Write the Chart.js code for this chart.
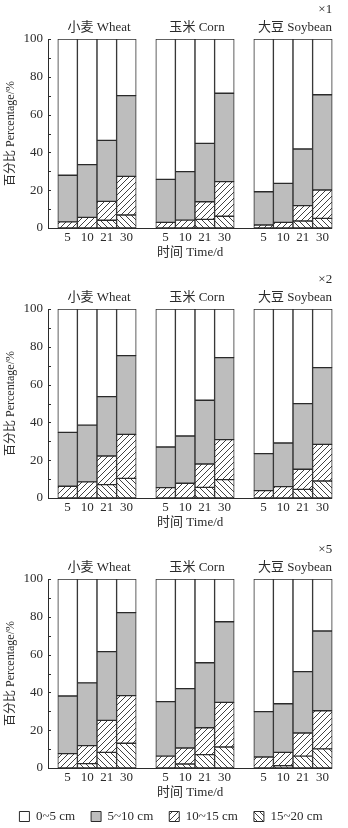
<!DOCTYPE html>
<html>
<head>
<meta charset="utf-8">
<script src="https://cdn.jsdelivr.net/npm/chart.js@4.4.1/dist/chart.umd.min.js"></script>
<style>
  html, body { margin: 0; padding: 0; background: #fff; overflow: hidden; }
  canvas { position: absolute; left: 0; }
</style>
</head>
<body>
<canvas id="c1" width="348" height="270" style="top:0"></canvas>
<canvas id="c2" width="348" height="270" style="top:270px"></canvas>
<canvas id="c3" width="348" height="293" style="top:540px"></canvas>
<script>
// categories
const days = ['5', '10', '21', '30'];
const crops = ['小麦 Wheat', '玉米 Corn', '大豆 Soybean'];
const layers = ['0~5 cm', '5~10 cm', '10~15 cm', '15~20 cm'];
const tags = ['×1', '×2', '×5'];
const yTicks = [0, 20, 40, 60, 80, 100];

// values in % — order: wheat 5/10/21/30, corn 5/10/21/30, soybean 5/10/21/30
// ×1
const x1Depth0to5   = [72.1, 66.5, 53.6, 30.0,  74.3, 70.2, 55.2, 28.7,  80.8, 76.4, 58.2, 29.5];
const x1Depth5to10  = [24.7, 27.9, 32.3, 42.7,  22.7, 25.6, 30.9, 46.8,  17.6, 20.6, 30.0, 50.4];
const x1Depth10to15 = [3.2, 5.6, 10.0, 20.4,    3.0, 4.2, 9.3, 18.3,     1.6, 3.0, 8.1, 15.0];
const x1Depth15to20 = [0, 0, 4.1, 6.9,          0, 0, 4.6, 6.2,          0, 0, 3.7, 5.1];
// ×2
const x2Depth0to5   = [65.3, 61.4, 46.4, 24.7,  73.0, 67.2, 48.3, 25.7,  76.5, 70.9, 50.1, 31.0];
const x2Depth5to10  = [28.5, 30.1, 31.4, 41.6,  21.5, 25.0, 33.7, 43.4,  19.6, 23.1, 34.7, 40.6];
const x2Depth10to15 = [6.2, 8.5, 15.1, 23.3,    5.5, 7.8, 12.4, 21.2,    3.9, 6.0, 10.6, 19.4];
const x2Depth15to20 = [0, 0, 7.1, 10.4,         0, 0, 5.6, 9.7,          0, 0, 4.6, 9.0];
// ×5
const x5Depth0to5   = [61.9, 55.0, 38.4, 17.8,  64.9, 58.0, 44.3, 22.6,  70.2, 66.0, 49.0, 27.5];
const x5Depth5to10  = [30.5, 33.2, 36.4, 43.9,  28.8, 31.4, 34.4, 42.7,  24.0, 25.7, 32.5, 42.2];
const x5Depth10to15 = [7.6, 9.5, 16.9, 25.2,    6.3, 8.5, 14.2, 23.6,    5.8, 7.1, 12.2, 20.2];
const x5Depth15to20 = [0, 2.3, 8.3, 13.1,       0, 2.1, 7.1, 11.1,       0, 1.2, 6.3, 10.1];

const INK = '#2b2b2b';
const GRAY = '#bdbdbd';
const FAMILY = "'Liberation Serif', 'Noto Sans CJK SC', serif";
const xTitle = '时间 Time/d';

// diagonal hatch fill, dir 1 = "/" and -1 = "\"
function hatch(dir) {
    const s = 6;
    const c = document.createElement('canvas');
    c.width = s; c.height = s;
    const g = c.getContext('2d');
    g.fillStyle = '#fff';
    g.fillRect(0, 0, s, s);
    g.strokeStyle = INK;
    g.lineWidth = 0.9;
    g.beginPath();
    if (dir > 0) {
        g.moveTo(0, s); g.lineTo(s, 0);
        g.moveTo(-1, 1); g.lineTo(1, -1);
        g.moveTo(s - 1, s + 1); g.lineTo(s + 1, s - 1);
    } else {
        g.moveTo(0, 0); g.lineTo(s, s);
        g.moveTo(-1, s - 1); g.lineTo(1, s + 1);
        g.moveTo(s - 1, -1); g.lineTo(s + 1, 1);
    }
    g.stroke();
    return g.createPattern(c, 'repeat');
}

const fills = ['#ffffff', GRAY, hatch(1), hatch(-1)];

// blank slot at both ends and between crops
const labels = [''];
crops.forEach(() => { labels.push(...days, ''); });

function spread(vals) {
    const out = [null];
    crops.forEach((c, i) => { out.push(...vals.slice(i * 4, i * 4 + 4), null); });
    return out;
}

const decor = {
    id: 'decor',
    afterDraw(chart, args, opts) {
        const { ctx, chartArea: area, scales: { x, y } } = chart;
        const half = (x.getPixelForValue(1) - x.getPixelForValue(0)) / 2;
        const right = x.getPixelForValue(labels.length - 2) + half;
        ctx.save();
        ctx.strokeStyle = INK;
        ctx.lineWidth = 1;
        // small inward ticks on the y axis
        for (let v = 0; v <= 100; v += 10) {
            const py = Math.round(y.getPixelForValue(v)) + 0.5;
            ctx.beginPath();
            ctx.moveTo(area.left, py);
            ctx.lineTo(area.left + 3, py);
            ctx.stroke();
        }
        // baseline up to the last bar
        const by = Math.round(area.bottom) + 0.5;
        ctx.beginPath();
        ctx.moveTo(area.left, by);
        ctx.lineTo(right, by);
        ctx.stroke();

        ctx.fillStyle = INK;
        ctx.textBaseline = 'middle';
        ctx.textAlign = 'center';
        ctx.font = '13px ' + FAMILY;
        crops.forEach((name, i) => {
            const cx = (x.getPixelForValue(1 + i * 5) + x.getPixelForValue(4 + i * 5)) / 2;
            ctx.fillText(name, cx + 2, area.top - 11);
        });
        ctx.fillText(xTitle, (area.left + right) / 2, area.bottom + 24.5);
        ctx.textAlign = 'right';
        ctx.fillText(opts.tag, right, area.top - 29);
        ctx.restore();
    }
};

function makeChart(id, tag, series, withLegend) {
    // stack from the bottom: 15~20, 10~15, 5~10, 0~5
    const datasets = [3, 2, 1, 0].map(k => ({
        label: layers[k],
        data: spread(series[k]),
        backgroundColor: fills[k],
        borderColor: INK,
        borderWidth: 1,
        borderSkipped: false,
        barPercentage: 1,
        categoryPercentage: 1
    }));

    return new Chart(document.getElementById(id), {
        type: 'bar',
        data: { labels: labels, datasets: datasets },
        plugins: [decor],
        options: {
            responsive: false,
            animation: false,
            layout: { padding: { top: 39, right: 6, left: 0, bottom: 0 } },
            plugins: {
                decor: { tag: tag },
                tooltip: { enabled: false },
                legend: {
                    display: withLegend,
                    position: 'bottom',
                    reverse: true,
                    labels: {
                        color: INK,
                        font: { family: FAMILY, size: 13 },
                        boxWidth: 10,
                        boxHeight: 10,
                        padding: 16
                    }
                }
            },
            scales: {
                x: {
                    stacked: true,
                    offset: false,
                    grid: { display: false, drawTicks: false },
                    border: { display: false },
                    ticks: {
                        color: INK,
                        font: { family: FAMILY, size: 13 },
                        padding: 2,
                        autoSkip: false,
                        maxRotation: 0
                    },
                    afterFit: s => { s.height = withLegend ? 26 : 42; }
                },
                y: {
                    stacked: true,
                    min: 0,
                    max: 100,
                    afterBuildTicks: s => { s.ticks = yTicks.map(v => ({ value: v })); },
                    grid: { display: false, drawTicks: false },
                    border: { display: true, color: INK, width: 1 },
                    ticks: {
                        color: INK,
                        font: { family: FAMILY, size: 13 },
                        padding: 5
                    },
                    title: {
                        display: true,
                        text: '百分比 Percentage/%',
                        color: INK,
                        font: { family: FAMILY, size: 12 },
                        padding: { top: 4, bottom: 0 }
                    },
                    afterFit: s => { s.width = 48; }
                }
            }
        }
    });
}

makeChart('c1', tags[0], [x1Depth0to5, x1Depth5to10, x1Depth10to15, x1Depth15to20], false);
makeChart('c2', tags[1], [x2Depth0to5, x2Depth5to10, x2Depth10to15, x2Depth15to20], false);
makeChart('c3', tags[2], [x5Depth0to5, x5Depth5to10, x5Depth10to15, x5Depth15to20], true);
</script>
</body>
</html>
